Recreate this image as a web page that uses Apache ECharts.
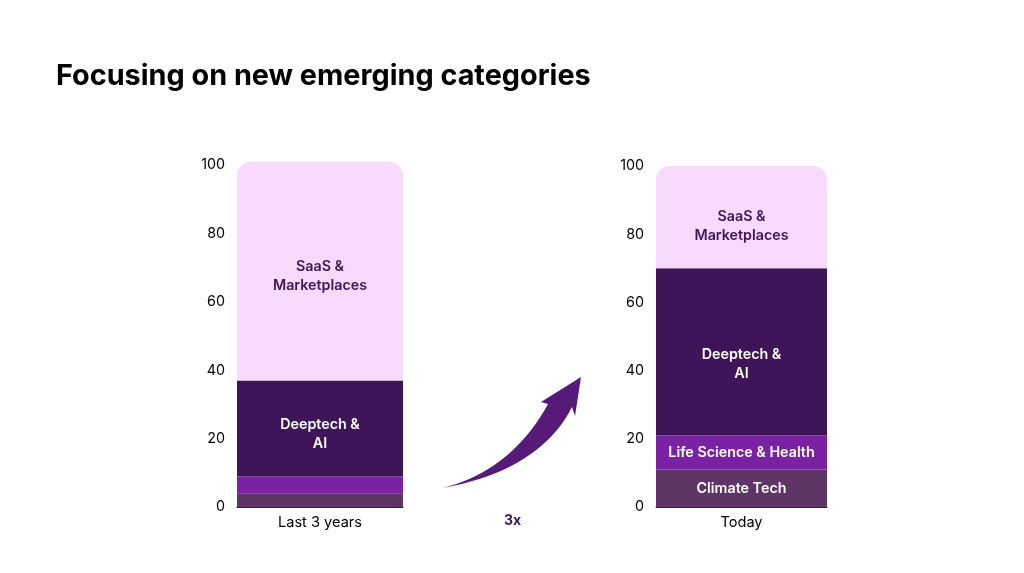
<!DOCTYPE html>
<html>
<head>
<meta charset="utf-8">
<style>
  html, body { margin: 0; padding: 0; background: #fff; }
  #chart { width: 1024px; height: 573px; }
</style>
<script src="https://cdn.jsdelivr.net/npm/echarts@6/dist/echarts.min.js"></script>
</head>
<body>
<div id="chart"></div>
<script>
const periods = ["Last 3 years", "Today"];
const segmentNames = ["Climate Tech", "Life Science & Health", "Deeptech & AI", "SaaS & Marketplaces"];
const segmentLabels = ["Climate Tech", "Life Science & Health", "Deeptech &\nAI", "SaaS &\nMarketplaces"];
const colors = ["#5E3566", "#7A22A3", "#3E1558", "#F8DAFD"];
const labelColors = ["#fff", "#fff", "#fff", "#3E1558"];
// values per segment: [last 3 years, today]
const climateTech = [4, 11];
const lifeScience = [5, 10];
const deeptech = [28, 49];
const saas = [64, 30];
const yTicks = [0, 20, 40, 60, 80, 100];
const growthLabel = "3x";

const segments = [climateTech, lifeScience, deeptech, saas];
// vertical nudge of the in-bar labels, [period][segment]
const labelNudge = [[2, 2, 6, 5], [0, 0, 12, 9]];

const chart = echarts.init(document.getElementById("chart"));

const grids = [
  { left: 237, width: 166, top: 165, bottom: 66 },
  { left: 656, width: 171, top: 166, bottom: 66 }
];

const series = [];
periods.forEach((p, gi) => {
  segments.forEach((vals, si) => {
    const small = gi === 0 && si < 2;
    series.push({
      type: "bar",
      name: segmentNames[si],
      xAxisIndex: gi,
      yAxisIndex: gi,
      stack: "s" + gi,
      barWidth: "100%",
      clip: false,
      data: [vals[gi]],
      itemStyle: {
        color: colors[si],
        borderRadius: si === 3 ? [14, 14, 0, 0] : 0
      },
      label: {
        show: !small,
        position: "inside",
        formatter: segmentLabels[si],
        color: labelColors[si],
        fontFamily: "Inter",
        fontWeight: 600,
        fontSize: 14.3,
        lineHeight: 19,
        offset: [0, labelNudge[gi][si]]
      },
      emphasis: { disabled: true }
    });
  });
});

// curved arrow outline between the two bars
function quad(p0, c, p1, n) {
  const pts = [];
  for (let i = 0; i <= n; i++) {
    const t = i / n, u = 1 - t;
    pts.push([u * u * p0[0] + 2 * u * t * c[0] + t * t * p1[0],
              u * u * p0[1] + 2 * u * t * c[1] + t * t * p1[1]]);
  }
  return pts;
}
const arrowPts = []
  .concat(quad([443, 488], [512, 470], [548, 404], 20))
  .concat([[541, 402], [581, 377], [575, 416]])
  .concat(quad([572, 407], [540, 470], [443, 488], 20));

chart.setOption({
  animation: false,
  title: {
    text: "Focusing on new emerging categories",
    left: 51,
    top: 57,
    textStyle: { fontFamily: "Inter", fontWeight: 700, fontSize: 28.8, color: "#000" }
  },
  grid: grids,
  xAxis: periods.map((p, i) => ({
    type: "category",
    gridIndex: i,
    data: [p],
    axisTick: { show: false },
    axisLine: { show: true, lineStyle: { color: "#3E1558", width: 1 } },
    axisLabel: { color: "#000", fontFamily: "Inter", fontSize: 14.6, margin: 8 }
  })),
  yAxis: periods.map((p, i) => ({
    type: "value",
    gridIndex: i,
    min: yTicks[0],
    max: yTicks[yTicks.length - 1],
    interval: yTicks[1] - yTicks[0],
    splitLine: { show: false },
    axisLine: { show: false },
    axisTick: { show: false },
    axisLabel: { color: "#000", fontFamily: "Inter", fontSize: 14.3, margin: 12, padding: [3, 0, 0, 0] }
  })),
  series: series,
  graphic: [
    {
      type: "polygon",
      shape: { points: arrowPts },
      style: { fill: "#561A78" }
    },
    {
      type: "text",
      left: 504,
      top: 514,
      style: { text: growthLabel, fill: "#3E1558", font: "bold 14px Inter" }
    }
  ]
});
</script>
</body>
</html>
